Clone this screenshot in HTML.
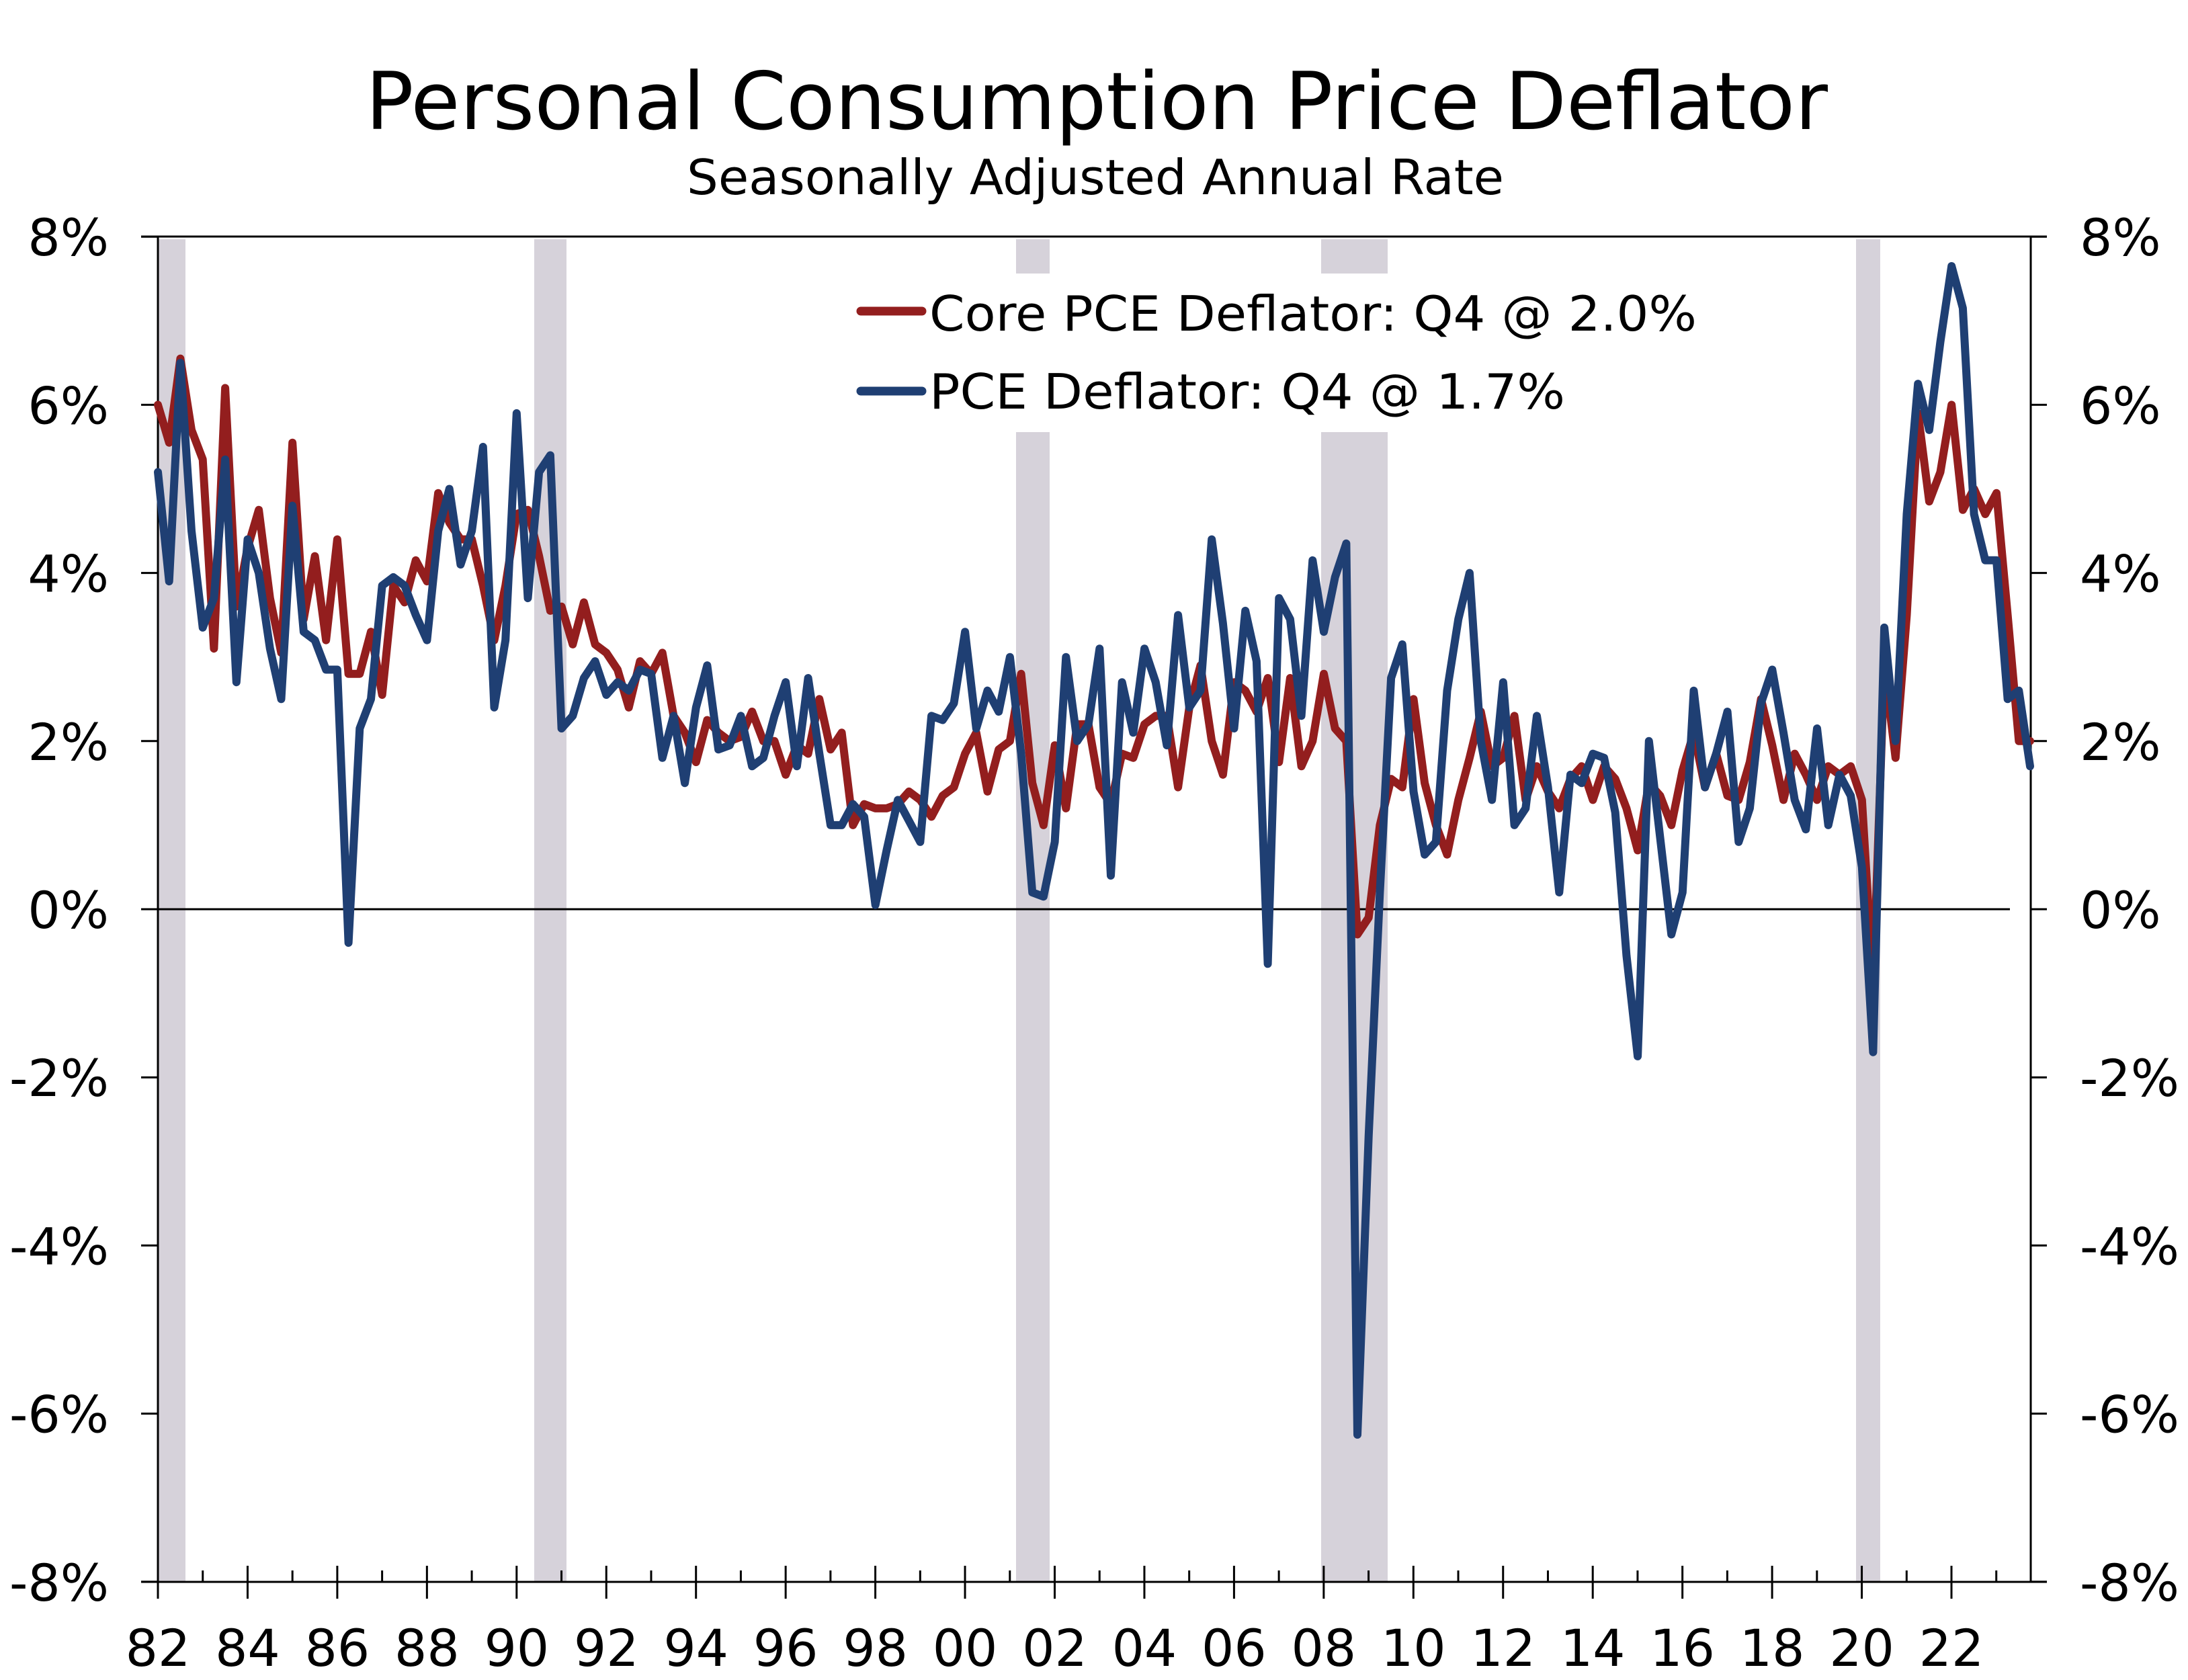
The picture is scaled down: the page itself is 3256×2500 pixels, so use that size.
<!DOCTYPE html>
<html><head><meta charset="utf-8"><style>html,body{margin:0;padding:0;background:#fff}svg{display:block}</style></head>
<body>
<svg id="s" width="3256" height="2500" xmlns="http://www.w3.org/2000/svg" font-family="'DejaVu Sans','Liberation Sans',sans-serif">
<rect width="3256" height="2500" fill="#fff"/>
<g fill="#D6D2DA">
<rect x="236" y="356" width="40" height="1998"/>
<rect x="795" y="356" width="48" height="1998"/>
<rect x="1512" y="356" width="50" height="51"/><rect x="1512" y="643" width="50" height="1711"/>
<rect x="1966" y="356" width="99" height="51"/><rect x="1966" y="643" width="99" height="1711"/>
<rect x="2762" y="356" width="36" height="1998"/>
</g>
<g id="ax" stroke="#000" stroke-width="3" fill="none"></g>
<line x1="235" y1="1353" x2="2991" y2="1353" stroke="#000" stroke-width="3"/>
<polyline id="red" fill="none" stroke="#931E1E" stroke-width="12" stroke-linejoin="round" stroke-linecap="round"/>
<polyline id="blue" fill="none" stroke="#1F3F73" stroke-width="12" stroke-linejoin="round" stroke-linecap="round"/>
<text x="1632" y="192" font-size="119" text-anchor="middle" textLength="2176" lengthAdjust="spacingAndGlyphs">Personal Consumption Price Deflator</text>
<text x="1630" y="289" font-size="72" text-anchor="middle" textLength="1216" lengthAdjust="spacingAndGlyphs">Seasonally Adjusted Annual Rate</text>
<line x1="1281" y1="463" x2="1372" y2="463" stroke="#931E1E" stroke-width="13" stroke-linecap="round"/>
<line x1="1281" y1="582" x2="1372" y2="582" stroke="#1F3F73" stroke-width="13" stroke-linecap="round"/>
<text x="1383" y="492" font-size="72" textLength="1142" lengthAdjust="spacingAndGlyphs">Core PCE Deflator: Q4 @ 2.0%</text>
<text x="1383" y="608" font-size="72" textLength="946" lengthAdjust="spacingAndGlyphs">PCE Deflator: Q4 @ 1.7%</text>
<g id="lab" font-size="76"></g>
</svg>
<script>
var blue=[5.2,3.9,6.5,4.5,3.35,3.7,5.35,2.7,4.4,4.0,
3.1,2.5,4.8,3.3,3.2,2.85,2.85,-0.4,2.15,2.5,
3.85,3.95,3.85,3.5,3.2,4.5,5.0,4.1,4.5,5.5,
2.4,3.2,5.9,3.7,5.2,5.4,2.15,2.3,2.75,2.95,
2.55,2.7,2.6,2.85,2.8,1.8,2.3,1.5,2.4,
2.9,1.9,1.95,2.3,1.7,1.8,2.3,2.7,1.7,2.75,
1.85,1.0,1.0,1.25,1.1,0.05,0.7,1.3,1.05,0.8,
2.3,2.25,2.45,3.3,2.15,2.6,2.35,3.0,1.85,0.2,
0.15,0.8,3.0,2.0,2.2,3.1,0.4,2.7,2.1,3.1,
2.7,1.95,3.5,2.4,2.6,4.4,3.4,2.15,3.55,2.95,
-0.65,3.7,3.45,2.3,4.15,3.3,3.95,4.35,-6.25,-2.7,
0.2,2.75,3.15,1.4,0.65,0.8,2.6,3.45,4.0,2.0,
1.3,2.7,1.0,1.2,2.3,1.45,0.2,1.6,1.5,1.85,
1.8,1.15,-0.55,-1.75,2.0,0.85,-0.3,0.2,2.6,1.45,
1.85,2.35,0.8,1.2,2.45,2.85,2.1,1.3,0.95,
2.15,1.0,1.6,1.35,0.5,-1.7,3.35,2.0,4.7,6.25,
5.7,6.75,7.65,7.15,4.7,4.15,4.15,2.5,2.6,1.7];
var red=[6.0,5.55,6.55,5.7,5.35,3.1,6.2,3.6,4.3,4.75,
3.7,3.05,5.55,3.45,4.2,3.2,4.4,2.8,2.8,3.3,
2.55,3.85,3.65,4.15,3.9,4.95,4.6,4.4,4.4,3.85,
3.2,3.85,4.7,4.75,4.2,3.55,3.6,3.15,3.65,3.15,
3.05,2.85,2.4,2.95,2.8,3.05,2.3,2.1,1.75,2.25,
2.1,2.0,2.05,2.35,2.0,2.0,1.6,1.95,1.85,2.5,
1.9,2.1,1.0,1.25,1.2,1.2,1.25,1.4,1.3,1.1,
1.35,1.45,1.85,2.1,1.4,1.9,2.0,2.8,1.5,1.0,
1.95,1.2,2.2,2.2,1.45,1.25,1.85,1.8,2.2,2.3,
2.3,1.45,2.4,2.9,2.0,1.6,2.7,2.6,2.35,2.75,
1.75,2.75,1.7,2.0,2.8,2.15,2.0,-0.3,-0.1,1.0,
1.55,1.45,2.5,1.5,1.0,0.65,1.3,1.8,2.35,1.7,
1.8,2.3,1.3,1.7,1.4,1.2,1.55,1.7,1.3,1.7,
1.55,1.2,0.7,1.5,1.35,1.0,1.65,2.1,1.45,1.85,
1.35,1.3,1.75,2.5,1.95,1.3,1.85,1.6,1.3,1.7,
1.6,1.7,1.3,-0.9,
2.9,1.8,3.5,5.9,4.85,5.2,6.0,4.75,5.0,4.7,4.95,3.5,2.0,2.0];
function pts(a){var n=a.length,dx=(3021-235)/(n-1);return a.map(function(v,i){return (235+i*dx).toFixed(1)+","+(1353-v*125.1).toFixed(1)}).join(" ");}
document.getElementById("red").setAttribute("points",pts(red));
document.getElementById("blue").setAttribute("points",pts(blue));
var ax=document.getElementById("ax"),lab=document.getElementById("lab"),NS="http://www.w3.org/2000/svg";
function ln(x1,y1,x2,y2){var l=document.createElementNS(NS,"line");l.setAttribute("x1",x1);l.setAttribute("y1",y1);l.setAttribute("x2",x2);l.setAttribute("y2",y2);ax.appendChild(l);}
function tx(x,y,t,anc){var e=document.createElementNS(NS,"text");e.setAttribute("x",x);e.setAttribute("y",y);e.setAttribute("text-anchor",anc);e.textContent=t;lab.appendChild(e);}
ln(235,352,235,2354);ln(3022,352,3022,2354);ln(210,352,3046,352);ln(210,2354,3046,2354);
for(var k=-8;k<=8;k+=2){var y=1353-k*125.1;ln(210,y,235,y);ln(3022,y,3046,y);
tx(162,y+28,k+"%","end");tx(3095,y+28,k+"%","start");}
for(var yr=0;yr<=41;yr++){var x=235+yr*66.725;if(yr%2==0){ln(x,2330,x,2379);var lbl=String((82+yr)%100).padStart(2,"0");tx(x,2479,lbl,"middle");}else{ln(x,2337,x,2354);}}
</script>
</body></html>
